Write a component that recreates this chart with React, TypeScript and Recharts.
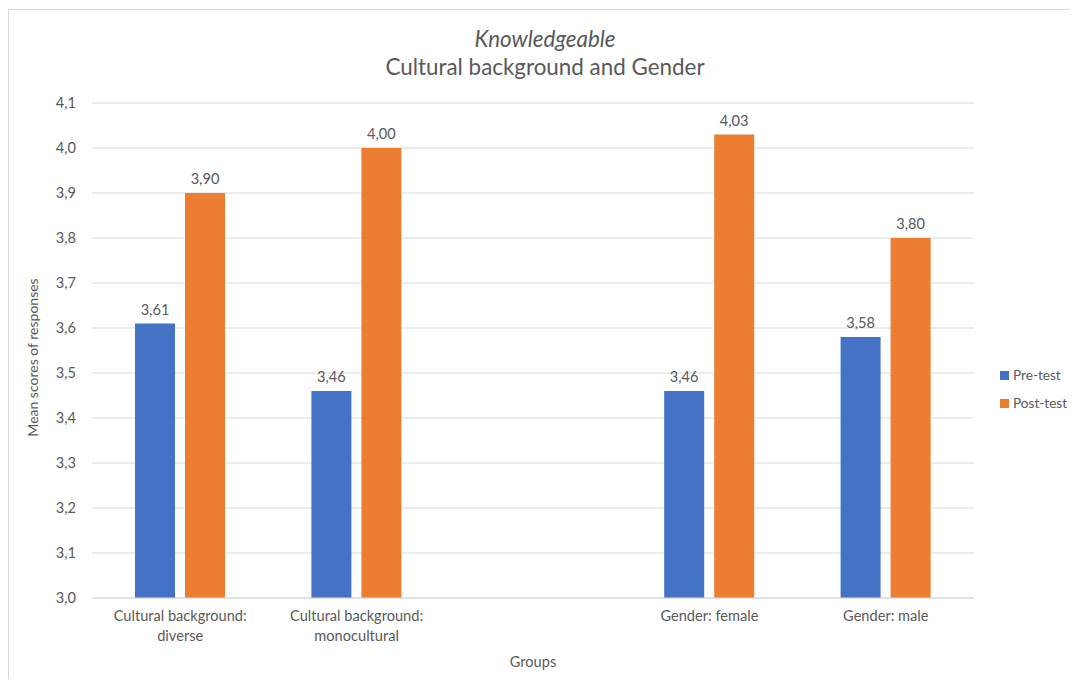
import { Bar, BarChart, CartesianGrid, LabelList, XAxis, YAxis } from "recharts";

const groups = [
  "Cultural background:\ndiverse",
  "Cultural background:\nmonocultural",
  "",
  "Gender: female",
  "Gender: male",
];
const preTest = [3.61, 3.46, null, 3.46, 3.58];
const postTest = [3.9, 4.0, null, 4.03, 3.8];
const yTicks = [3.0, 3.1, 3.2, 3.3, 3.4, 3.5, 3.6, 3.7, 3.8, 3.9, 4.0, 4.1];

const BLUE = "#4472C4";
const ORANGE = "#ED7D31";
const TEXT = "#595959";
const FONT = "Lato, 'Open Sans', sans-serif";
const FS = 14.6;

const data = groups.map((g, i) => ({ group: g, pre: preTest[i], post: postTest[i] }));

const fmt = (v: any) => (v == null ? "" : Number(v).toFixed(2).replace(".", ","));

function GroupTick({ x, y, payload }: any) {
  const lines = String(payload.value).split("\n");
  return (
    <text x={x} y={y} textAnchor="middle" fill={TEXT} fontSize={FS} fontFamily={FONT}>
      {lines.map((l, i) => (
        <tspan key={i} x={x} dy={i === 0 ? 15 : 20}>
          {l}
        </tspan>
      ))}
    </text>
  );
}

function YTitle({ viewBox }: any) {
  const cx = 32;
  const cy = viewBox.y + viewBox.height / 2 + 7;
  return (
    <text
      x={cx}
      y={cy}
      transform={`rotate(-90, ${cx}, ${cy})`}
      textAnchor="middle"
      dominantBaseline="central"
      fill={TEXT}
      fontSize={14}
      fontFamily={FONT}
    >
      Mean scores of responses
    </text>
  );
}

export default function App() {
  return (
    <div
      style={{
        position: "relative",
        margin: -8,
        width: 1078,
        height: 687,
        overflow: "hidden",
        background: "#fff",
        fontFamily: FONT,
      }}
    >
      <div
        style={{
          position: "absolute",
          left: 8,
          top: 9,
          width: 1090,
          height: 700,
          border: "1px solid #d9d9d9",
        }}
      />
      <div
        style={{
          position: "absolute",
          left: 6,
          top: 25,
          width: 1078,
          textAlign: "center",
          color: TEXT,
          fontSize: 22.4,
          lineHeight: "28px",
        }}
      >
        <div style={{ fontStyle: "italic" }}>Knowledgeable</div>
        <div>Cultural background and Gender</div>
      </div>
      <div style={{ position: "absolute", left: 0, top: 0 }}>
        <BarChart
          width={1078}
          height={687}
          data={data}
          margin={{ top: 103, right: 104, left: 42, bottom: 29 }}
          barSize={40}
          barGap={10}
        >
          <CartesianGrid vertical={false} stroke="#d9d9d9" />
          <XAxis
            dataKey="group"
            height={60}
            tick={<GroupTick />}
            tickLine={false}
            axisLine={{ stroke: "#d9d9d9" }}
            interval={0}
            label={{
              value: "Groups",
              position: "insideBottom",
              offset: -9,
              fill: TEXT,
              fontSize: 14.6,
              fontFamily: FONT,
            }}
          />
          <YAxis
            width={50}
            domain={[3.0, 4.1]}
            ticks={yTicks}
            allowDataOverflow
            tickFormatter={(v: number) => v.toFixed(1).replace(".", ",")}
            tick={{ fill: TEXT, fontSize: FS, fontFamily: FONT }}
            tickLine={false}
            axisLine={false}
            tickSize={0}
            tickMargin={16}
            label={<YTitle />}
          />
          <Bar dataKey="pre" name="Pre-test" fill={BLUE} isAnimationActive={false}>
            <LabelList
              dataKey="pre"
              position="top"
              offset={9}
              formatter={fmt}
              fill={TEXT}
              fontSize={FS}
              fontFamily={FONT}
            />
          </Bar>
          <Bar dataKey="post" name="Post-test" fill={ORANGE} isAnimationActive={false}>
            <LabelList
              dataKey="post"
              position="top"
              offset={9}
              formatter={fmt}
              fill={TEXT}
              fontSize={FS}
              fontFamily={FONT}
            />
          </Bar>
        </BarChart>
      </div>
      <div style={{ position: "absolute", left: 1000, top: 361, color: TEXT, fontSize: 13.6 }}>
        {[
          { name: "Pre-test", color: BLUE },
          { name: "Post-test", color: ORANGE },
        ].map((it) => (
          <div key={it.name} style={{ display: "flex", alignItems: "center", height: 28 }}>
            <span style={{ width: 9, height: 9, background: it.color, marginRight: 4 }} />
            <span>{it.name}</span>
          </div>
        ))}
      </div>
    </div>
  );
}
